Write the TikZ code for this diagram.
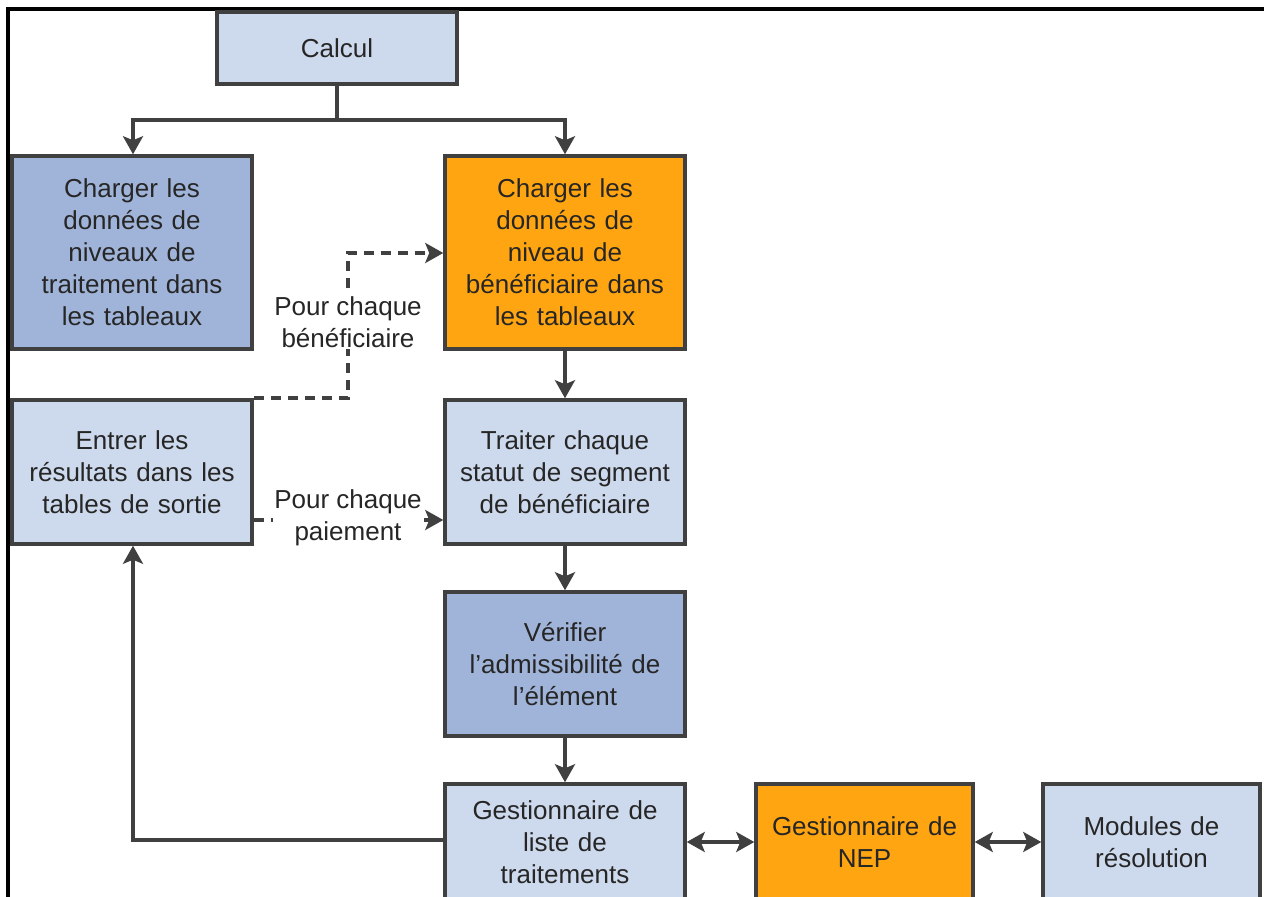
\documentclass[tikz,border=0pt]{standalone}
\usepackage{fontspec}
\setmainfont{Liberation Sans}
\usetikzlibrary{arrows.meta}
\definecolor{lblue}{HTML}{CDD9EC}
\definecolor{dblue}{HTML}{A0B4D9}
\definecolor{orng}{HTML}{FFA511}
\definecolor{edge}{HTML}{404040}
\definecolor{txt}{HTML}{262626}
\begin{document}
\begin{tikzpicture}[x=1pt,y=-1pt,
  >={Stealth[length=18pt,width=20pt,inset=4pt]},
  box/.style={draw=edge, line width=3.5pt, minimum width=240pt, minimum height=144pt,
    inner sep=0pt, align=center, text=txt, font=\fontsize{26}{32}\selectfont, text width=236pt},
  lb/.style={box, fill=lblue},
  db/.style={box, fill=dblue},
  ob/.style={box, fill=orng},
  conn/.style={draw=edge, line width=3.2pt, ->},
  dconn/.style={conn, dash pattern=on 10pt off 7pt},
  lbl/.style={text=txt, font=\fontsize{26}{32}\selectfont, align=center, inner sep=1pt}]
\useasboundingbox (0,0) rectangle (1264,897);
\fill[white] (0,0) rectangle (1264,897);
\draw[black, line width=3.5pt] (8,897) -- (8,9) -- (1264,9);

\node[lb, minimum height=72pt] (calc) at (337,48) {Calcul};
\node[db, minimum height=193pt] (cn) at (132,252.5) {Charger les\\données de\\niveaux de\\traitement dans\\les tableaux};
\node[ob, minimum height=193pt] (cb) at (565,252.5) {Charger les\\données de\\niveau de\\bénéficiaire dans\\les tableaux};
\node[lb] (ent) at (132,472) {Entrer les\\résultats dans les\\tables de sortie};
\node[lb] (tr) at (565,472) {Traiter chaque\\statut de segment\\de bénéficiaire};
\node[db] (ver) at (565,664) {Vérifier\\l'admissibilité de\\l'élément};
\node[lb, minimum height=116pt] (gl) at (565,842) {Gestionnaire de\\liste de\\traitements};
\node[ob, minimum width=217pt, text width=214pt, minimum height=116pt] (nep) at (864.5,842) {Gestionnaire de\\NEP};
\node[lb, minimum width=217pt, text width=214pt, minimum height=116pt] (mod) at (1151.5,842) {Modules de\\résolution};

\coordinate (j0) at (337,120);
\coordinate (j1) at (133,120);
\coordinate (j2) at (565,120);
\draw[draw=edge, line width=3.2pt] (calc.south) -- (j0);
\draw[conn] (j0) -- (j1) -- (cn.north -| j1);
\draw[conn] (j0) -- (j2) -- (cb.north);

\draw[conn] (cb.south) -- (tr.north);
\draw[conn] (tr.south) -- (ver.north);
\draw[conn] (ver.south) -- (gl.north);
\coordinate (j3) at (133,840);
\draw[conn] (gl.west |- j3) -- (j3) -- (ent.south -| j3);

\coordinate (h1) at (0,842);
\draw[draw=edge, line width=3.2pt, <->] (gl.east |- h1) -- (nep.west |- h1);
\draw[draw=edge, line width=3.2pt, <->] (nep.east |- h1) -- (mod.west |- h1);

\coordinate (d1) at (348,398);
\coordinate (d2) at (348,253);
\draw[dconn] (ent.north east |- d1) -- (d1) -- (d2) -- (cb.west |- d2);
\node[lbl, fill=white] (l1) at (348,322) {Pour chaque\\bénéficiaire};

\coordinate (d3) at (0,520);
\draw[dconn] (ent.east |- d3) -- (tr.west |- d3);
\node[lbl, fill=white] (l2) at (348,518) {Pour chaque\\paiement};
\end{tikzpicture}
\end{document}
